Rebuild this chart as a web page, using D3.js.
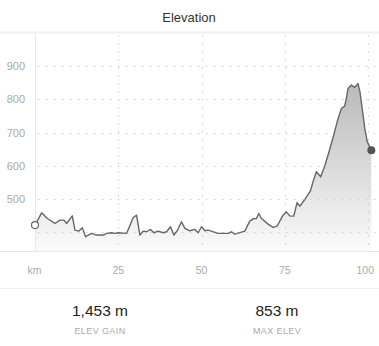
<!DOCTYPE html>
<html>
<head>
<meta charset="utf-8">
<script src="https://cdn.jsdelivr.net/npm/d3@7"></script>
<style>
html,body{margin:0;padding:0;background:#fff;}
svg{display:block;font-family:"Liberation Sans",Roboto,Arial,sans-serif;}
</style>
</head>
<body>
<svg id="c" width="379" height="346"></svg>
<script>
const kmValues = [0, 2, 3.7, 6, 7.5, 8.7, 9.5, 11.2, 12, 13.2, 14.2, 15.2, 17, 18.5, 20.5, 21.5, 23, 24, 25, 27.5, 29.5, 30.5, 31.5, 32.5, 33.5, 34.7, 35.7, 37, 38.5, 39.5, 40.7, 41.7, 42.7, 44, 45, 46.5, 48, 49, 50, 51, 52, 55, 58, 59, 60, 63, 64.5, 65.5, 66.5, 67.2, 68, 70, 71.5, 72.7, 74.5, 75.5, 76.5, 77.7, 78.7, 79.5, 81, 82.7, 83.5, 84.5, 85.8, 87, 88.3, 89.7, 91, 92, 93, 93.5, 94, 95, 96, 97, 97.6, 98.4, 99.1, 99.8, 101];
const elevValues = [421, 458, 441, 426, 436, 436, 426, 449, 406, 403, 413, 386, 396, 391, 391, 396, 398, 396, 398, 396, 444, 451, 391, 403, 401, 408, 398, 403, 398, 401, 416, 391, 404, 431, 411, 404, 408, 398, 416, 404, 406, 396, 396, 401, 394, 403, 433, 440, 441, 456, 441, 424, 414, 418, 451, 461, 449, 448, 489, 478, 498, 524, 552, 582, 567, 599, 642, 692, 742, 772, 780, 803, 833, 843, 836, 848, 822, 762, 707, 672, 647];
const yTicks = [500, 600, 700, 800, 900];
const yGrid = [400, 500, 600, 700, 800, 900];
const xTicks = [25, 50, 75, 100];
const xTickLabels = ["25", "50", "75", "100"];
const title = "Elevation";
const statValues = ["1,453 m", "853 m"];
const statLabels = ["ELEV GAIN", "MAX ELEV"];

(function () {
const data = kmValues.map((k, i) => ({km: k, elev: elevValues[i]}));
const svg = d3.select("#c");
const plotTop = 33, plotBottom = 251;
const x = d3.scaleLinear().domain([0, 100]).range([35, 368]);
const y = d3.scaleLinear().domain([343, 1000]).range([plotBottom, plotTop]);

svg.append("text").attr("x", 189).attr("y", 21.5).attr("text-anchor", "middle")
  .attr("font-size", 13).attr("fill", "#333").text(title);

svg.append("line").attr("x1", 0).attr("x2", 379).attr("y1", 32.5).attr("y2", 32.5)
  .attr("stroke", "#f0f0f0").attr("stroke-width", 2);
svg.append("line").attr("x1", 0).attr("x2", 379).attr("y1", plotBottom + 0.5).attr("y2", plotBottom + 0.5)
  .attr("stroke", "#e6e6e6").attr("stroke-width", 1);
svg.append("line").attr("x1", 0).attr("x2", 379).attr("y1", 288.5).attr("y2", 288.5)
  .attr("stroke", "#f0f0f0").attr("stroke-width", 1);

const defs = svg.append("defs");
const grad = defs.append("linearGradient").attr("id", "g").attr("gradientUnits", "userSpaceOnUse")
  .attr("x1", 0).attr("x2", 0).attr("y1", y(850)).attr("y2", plotBottom);
grad.append("stop").attr("offset", 0).attr("stop-color", "#b9b9b9");
grad.append("stop").attr("offset", 1).attr("stop-color", "#fbfbfb");

const area = d3.area().x(d => x(d.km)).y0(plotBottom).y1(d => y(d.elev));
svg.append("path").datum(data).attr("d", area).attr("fill", "url(#g)");

svg.append("line").attr("x1", x(0) + 0.5).attr("x2", x(0) + 0.5).attr("y1", plotTop).attr("y2", plotBottom)
  .attr("stroke", "#e8e8e8").attr("stroke-width", 1);
svg.selectAll(".hg").data(yGrid).enter().append("line")
  .attr("x1", x(0) + 3).attr("x2", 376)
  .attr("y1", d => Math.round(y(d)) + 0.5).attr("y2", d => Math.round(y(d)) + 0.5)
  .attr("stroke", "#cfcfcf").attr("stroke-dasharray", "1.5,6.5");
svg.selectAll(".vg").data(xTicks).enter().append("line")
  .attr("x1", d => Math.round(x(d)) + 0.5).attr("x2", d => Math.round(x(d)) + 0.5)
  .attr("y1", plotTop + 2).attr("y2", plotBottom)
  .attr("stroke", "#cfcfcf").attr("stroke-dasharray", "1.5,6.5");

const line = d3.line().x(d => x(d.km)).y(d => y(d.elev));
svg.append("path").datum(data).attr("d", line).attr("fill", "none")
  .attr("stroke", "#666").attr("stroke-width", 1.4).attr("stroke-linejoin", "round");

const first = data[0], last = data[data.length - 1];
svg.append("circle").attr("cx", x(first.km)).attr("cy", y(first.elev)).attr("r", 3.5)
  .attr("fill", "#fff").attr("stroke", "#666").attr("stroke-width", 1.2);
svg.append("circle").attr("cx", x(last.km)).attr("cy", y(last.elev)).attr("r", 4)
  .attr("fill", "#555");

svg.selectAll(".yl").data(yTicks).enter().append("text")
  .attr("x", 25).attr("y", d => y(d) + 4).attr("text-anchor", "end")
  .attr("font-size", 11).attr("fill", "#aaa").text(d => d);

svg.append("text").attr("x", 34.5).attr("y", 273.5).attr("text-anchor", "middle")
  .attr("font-size", 10.5).attr("fill", "#aaa").text("km");
svg.selectAll(".xl").data(xTicks).enter().append("text")
  .attr("x", (d, i) => i === xTicks.length - 1 ? 374 : x(d))
  .attr("y", 273.5)
  .attr("text-anchor", (d, i) => i === xTicks.length - 1 ? "end" : "middle")
  .attr("font-size", 10.5).attr("fill", "#aaa").text((d, i) => xTickLabels[i]);

const statX = [100, 277];
svg.selectAll(".sv").data(statValues).enter().append("text")
  .attr("x", (d, i) => statX[i]).attr("y", 316).attr("text-anchor", "middle")
  .attr("font-size", 15.5).attr("fill", "#222").text(d => d);
svg.selectAll(".sl").data(statLabels).enter().append("text")
  .attr("x", (d, i) => statX[i]).attr("y", 334).attr("text-anchor", "middle")
  .attr("font-size", 9).attr("letter-spacing", 0.4).attr("fill", "#aaa").text(d => d);
})();
</script>
</body>
</html>
